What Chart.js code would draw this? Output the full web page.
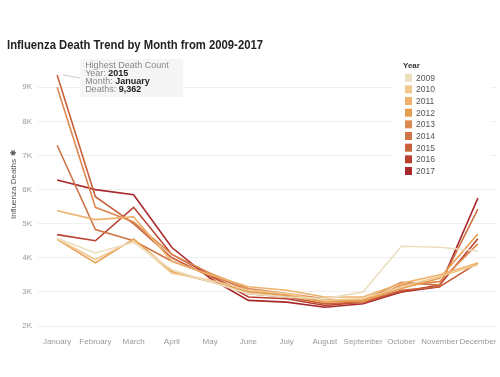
<!DOCTYPE html>
<html>
<head>
<meta charset="utf-8">
<script src="https://cdn.jsdelivr.net/npm/chart.js@4.4.1/dist/chart.umd.min.js"></script>
<style>
  html, body { margin: 0; padding: 0; background: #fff; }
  #wrap { width: 500px; height: 377px; position: relative; }
</style>
</head>
<body>
<div id="wrap"><canvas id="chart" width="500" height="377"></canvas></div>
<script>
// Meses (categorias do eixo x)
const months = ["January", "February", "March", "April", "May", "June",
  "July", "August", "September", "October", "November", "December"];

// Anos e cores da legenda
const years = ["2009", "2010", "2011", "2012", "2013", "2014", "2015", "2016", "2017"];
const yearColors = ["#ecdfc0", "#f0c88e", "#eeb26c", "#e79e4f", "#dc8a52",
  "#cf7447", "#c9613a", "#b8412f", "#a8282c"];

// Mortes por mês, uma lista por ano
const deaths2009 = [4570, 4140, 4450, 3650, 3300, 2950, 2850, 2800, 3000, 4340, 4310, 4200];
const deaths2010 = [4550, 3950, 4510, 3550, 3350, 3050, 2950, 2750, 2800, 3150, 3450, 3800];
const deaths2011 = [5380, 5120, 5200, 3900, 3500, 3150, 3050, 2850, 2850, 3250, 3500, 3850];
const deaths2012 = [4540, 3850, 4550, 3600, 3300, 3000, 2900, 2700, 2750, 3100, 3400, 4700];
const deaths2013 = [9000, 5480, 5050, 4100, 3550, 3100, 2950, 2800, 2700, 3200, 3300, 4410];
const deaths2014 = [7300, 4830, 4500, 3900, 3500, 3050, 2900, 2750, 2750, 3280, 3200, 5430];
const deaths2015 = [9362, 5790, 5000, 4000, 3450, 2950, 2850, 2650, 2700, 3050, 3150, 3850];
const deaths2016 = [4680, 4500, 5480, 4100, 3500, 2850, 2800, 2600, 2700, 3000, 3200, 4560];
const deaths2017 = [6280, 6000, 5850, 4300, 3400, 2750, 2700, 2550, 2650, 3000, 3150, 5750];
const allDeaths = [deaths2009, deaths2010, deaths2011, deaths2012, deaths2013,
  deaths2014, deaths2015, deaths2016, deaths2017];

// Ticks do eixo y
const yTicks = [2000, 3000, 4000, 5000, 6000, 7000, 8000, 9000];

// Anotação do pico
const peakYear = "2015";
const peakMonth = "January";

const FONT = "'Liberation Sans', Arial, Helvetica, sans-serif";

const datasets = years.map(function (y, i) {
    return {
        label: y,
        data: allDeaths[i],
        borderColor: yearColors[i],
        backgroundColor: yearColors[i],
        borderWidth: 1.6,
        pointRadius: 0,
        tension: 0,
        fill: false
    };
});

// Plugin para título, legenda, título do eixo y e anotação
const decorPlugin = {
    id: "decor",
    afterDraw(chart) {
        const ctx = chart.ctx;
        ctx.save();

        // Título
        ctx.fillStyle = "#222";
        ctx.font = "bold 12.5px " + FONT;
        ctx.textBaseline = "alphabetic";
        ctx.textAlign = "left";
        ctx.fillText("Influenza Death Trend by Month from 2009-2017", 7, 49, 256);

        // Título do eixo y (rotacionado)
        ctx.save();
        ctx.translate(16, 189);
        ctx.rotate(-Math.PI / 2);
        ctx.fillStyle = "#555";
        ctx.font = "8px " + FONT;
        ctx.textAlign = "center";
        ctx.fillText("Influenza Deaths", 0, 0);
        ctx.font = "8px 'DejaVu Sans', sans-serif";
        ctx.fillText("\u2731", 36, 0);
        ctx.restore();

        // Legenda
        ctx.fillStyle = "#fff";
        ctx.fillRect(393, 58, 98, 120);
        ctx.fillStyle = "#333";
        ctx.font = "bold 8px " + FONT;
        ctx.textBaseline = "middle";
        ctx.fillText("Year", 403, 66);
        ctx.font = "8.5px " + FONT;
        years.forEach(function (y, i) {
            const cy = 77.7 + i * 11.66;
            ctx.fillStyle = yearColors[i];
            ctx.fillRect(405, cy - 4, 7, 8);
            ctx.fillStyle = "#555";
            ctx.fillText(y, 416, cy + 0.5);
        });

        // Anotação do pico
        const xs = chart.scales.x;
        const ys = chart.scales.y;
        const mi = months.indexOf(peakMonth);
        const yi = years.indexOf(peakYear);
        const val = allDeaths[yi][mi];
        const px = xs.getPixelForValue(mi);
        const py = ys.getPixelForValue(val);
        ctx.strokeStyle = "#ccc";
        ctx.lineWidth = 1;
        ctx.beginPath();
        ctx.moveTo(px + 6, py);
        ctx.lineTo(px + 23, py + 3);
        ctx.stroke();
        ctx.fillStyle = "rgba(244,244,244,0.92)";
        ctx.fillRect(px + 23, py - 16, 103, 38);
        ctx.textBaseline = "middle";
        ctx.font = "9px " + FONT;
        ctx.fillStyle = "#888";
        const tx = px + 28;
        ctx.fillText("Highest Death Count", tx, py - 9);
        const rows = [["Year: ", peakYear], ["Month: ", peakMonth],
            ["Deaths: ", val.toLocaleString("en-US")]];
        rows.forEach(function (r, i) {
            const ry = py - 1 + i * 7.7;
            ctx.font = "9px " + FONT;
            ctx.fillStyle = "#888";
            ctx.fillText(r[0], tx, ry);
            const w = ctx.measureText(r[0]).width;
            ctx.font = "bold 9px " + FONT;
            ctx.fillStyle = "#222";
            ctx.fillText(r[1], tx + w, ry);
        });

        ctx.restore();
    }
};

new Chart(document.getElementById("chart").getContext("2d"), {
    type: "line",
    data: { labels: months, datasets: datasets },
    options: {
        responsive: false,
        animation: false,
        layout: { padding: { top: 60, left: 0, right: 3, bottom: 0 } },
        plugins: {
            legend: { display: false },
            tooltip: { enabled: false },
            title: { display: false }
        },
        scales: {
            x: {
                offset: true,
                grid: { display: false },
                border: { display: false },
                ticks: {
                    color: "#999",
                    font: { family: FONT, size: 8 },
                    padding: 3,
                    maxRotation: 0,
                    autoSkip: false
                },
                afterFit: function (s) { s.height = 51; }
            },
            y: {
                min: 2000,
                max: 9800,
                grid: { color: "#efefef", lineWidth: 1, drawTicks: false },
                border: { display: false },
                ticks: {
                    color: "#999",
                    font: { family: FONT, size: 8 },
                    padding: 6,
                    callback: function (v) { return (v / 1000) + "K"; }
                },
                afterBuildTicks: function (s) {
                    s.ticks = yTicks.map(function (v) { return { value: v }; });
                },
                afterFit: function (s) { s.width = 38; }
            }
        }
    },
    plugins: [decorPlugin]
});
</script>
</body>
</html>
